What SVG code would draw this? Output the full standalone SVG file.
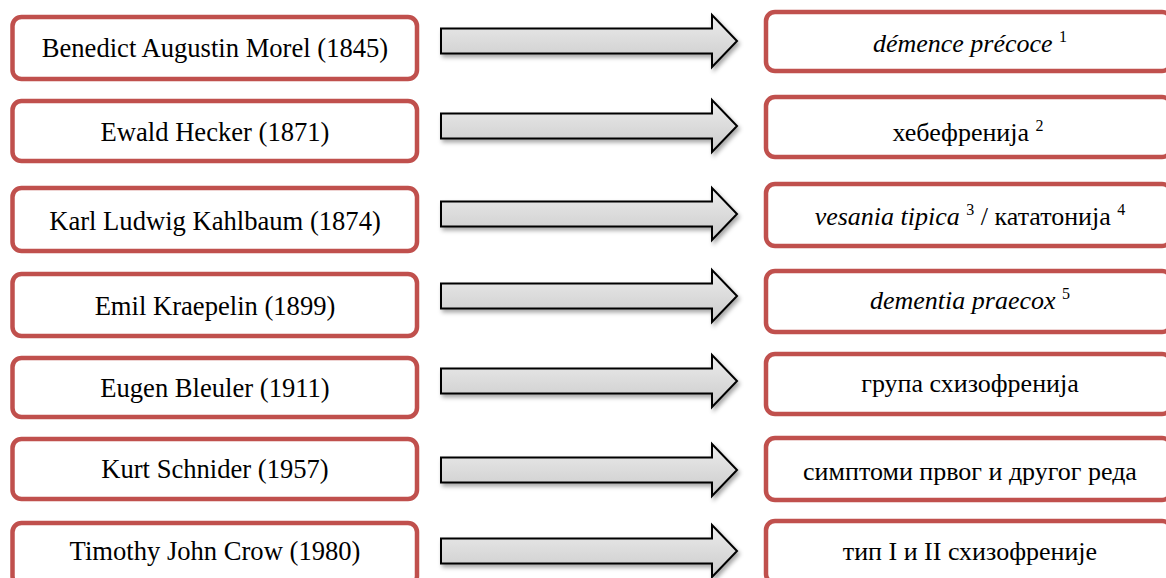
<svg xmlns="http://www.w3.org/2000/svg" width="1166" height="578" viewBox="0 0 1166 578">
<style>
.box{fill:#fff;stroke:#c0504d;stroke-width:4.5}
.t{font-family:"Liberation Serif","Times New Roman",serif;font-size:26px;fill:#000;text-anchor:middle}
.l{font-size:26.6px}
.i{font-style:italic}
.sup{font-size:16px}
.arrow{fill:url(#g);stroke:#000;stroke-width:2;stroke-linejoin:miter;filter:url(#sh)}
</style>
<defs>
<linearGradient id="g" x1="0" y1="0" x2="0" y2="1">
<stop offset="0" stop-color="#ececec"/>
<stop offset="1" stop-color="#cbcbcb"/>
</linearGradient>
<filter id="sh" x="-5%" y="-30%" width="115%" height="170%">
<feDropShadow dx="2" dy="3" stdDeviation="2" flood-color="#000" flood-opacity="0.35"/>
</filter>
<path id="arr" d="M441,-12.5 H712 V-26 L737,0 L712,26 V12.5 H441 Z"/>
</defs>

<g id="connectors">
<use href="#arr" class="arrow" transform="translate(0,41)"/>
<use href="#arr" class="arrow" transform="translate(0,126)"/>
<use href="#arr" class="arrow" transform="translate(0,214)"/>
<use href="#arr" class="arrow" transform="translate(0,296)"/>
<use href="#arr" class="arrow" transform="translate(0,381)"/>
<use href="#arr" class="arrow" transform="translate(0,470)"/>
<use href="#arr" class="arrow" transform="translate(0,551)"/>
</g>

<g id="left1"><rect class="box" x="12.5" y="17" width="404.5" height="62" rx="9"/><text class="t l" x="215" y="57">Benedict Augustin Morel (1845)</text></g>
<g id="left2"><rect class="box" x="12.5" y="101" width="404.5" height="60" rx="9"/><text class="t l" x="215" y="141">Ewald Hecker (1871)</text></g>
<g id="left3"><rect class="box" x="12.5" y="188" width="404.5" height="63" rx="9"/><text class="t l" x="215" y="230">Karl Ludwig Kahlbaum (1874)</text></g>
<g id="left4"><rect class="box" x="12.5" y="274" width="404.5" height="62" rx="9"/><text class="t l" x="215" y="315">Emil Kraepelin (1899)</text></g>
<g id="left5"><rect class="box" x="12.5" y="358" width="404.5" height="59" rx="9"/><text class="t l" x="215" y="397">Eugen Bleuler (1911)</text></g>
<g id="left6"><rect class="box" x="12.5" y="439" width="404.5" height="60" rx="9"/><text class="t l" x="215" y="478">Kurt Schnider (1957)</text></g>
<g id="left7"><rect class="box" x="12.5" y="523" width="404.5" height="62" rx="9"/><text class="t l" x="215" y="560">Timothy John Crow (1980)</text></g>

<g id="right1"><rect class="box" x="766" y="12" width="405" height="59" rx="9"/><text class="t" x="970" y="52"><tspan class="i">démence précoce</tspan> <tspan class="sup" dy="-10">1</tspan></text></g>
<g id="right2"><rect class="box" x="766" y="97" width="405" height="60" rx="9"/><text class="t" x="968" y="141">хебефренија <tspan class="sup" dy="-10">2</tspan></text></g>
<g id="right3"><rect class="box" x="766" y="184" width="405" height="62" rx="9"/><text class="t" x="970" y="225"><tspan class="i">vesania tipica</tspan> <tspan class="sup" dy="-10">3</tspan><tspan dy="10"> / кататонија </tspan><tspan class="sup" dy="-10">4</tspan></text></g>
<g id="right4"><rect class="box" x="766" y="271" width="405" height="61" rx="9"/><text class="t" x="970" y="309"><tspan class="i">dementia praecox</tspan> <tspan class="sup" dy="-10">5</tspan></text></g>
<g id="right5"><rect class="box" x="766" y="354" width="405" height="60" rx="9"/><text class="t" x="970" y="392">група схизофренија</text></g>
<g id="right6"><rect class="box" x="766" y="438" width="405" height="62" rx="9"/><text class="t" x="970" y="480">симптоми првог и другог реда</text></g>
<g id="right7"><rect class="box" x="766" y="521" width="405" height="62" rx="9"/><text class="t" x="970" y="560">тип I и II схизофреније</text></g>
</svg>
